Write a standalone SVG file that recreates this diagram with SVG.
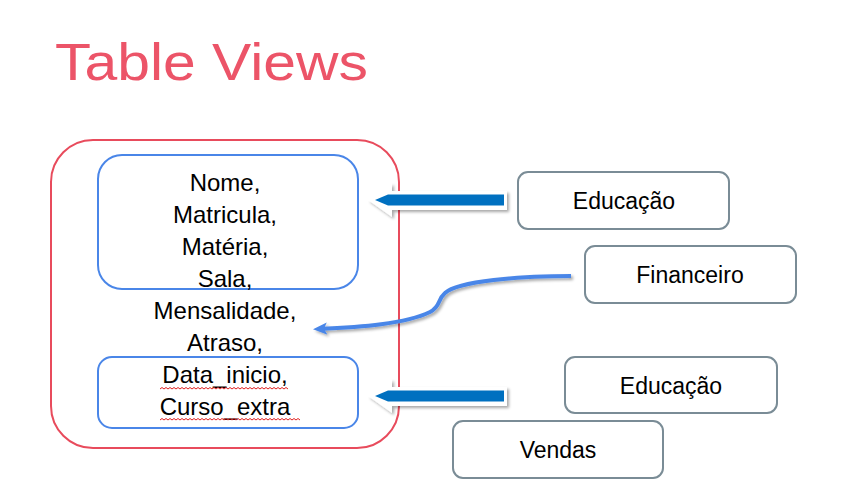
<svg xmlns="http://www.w3.org/2000/svg" width="856" height="488" viewBox="0 0 856 488">
<style>
.t{font-family:"Liberation Sans",Arial,sans-serif;font-size:24px;fill:#000;text-anchor:middle}
.r{font-family:"Liberation Sans",Arial,sans-serif;font-size:23px;fill:#000;text-anchor:middle}
.gbox{fill:#fff;stroke:#7A8C96;stroke-width:2}
.bbox{fill:none;stroke:#4A86E8;stroke-width:2}
.sq{fill:none;stroke:#E02020;stroke-width:1}
</style>
<defs>
<filter id="sh" x="-20%" y="-50%" width="140%" height="200%">
<feGaussianBlur in="SourceAlpha" stdDeviation="1.5"/>
<feOffset dx="1.5" dy="2" result="b"/>
<feComponentTransfer><feFuncA type="linear" slope="0.35"/></feComponentTransfer>
<feMerge><feMergeNode/><feMergeNode in="SourceGraphic"/></feMerge>
</filter>
<marker id="ah" markerWidth="15" markerHeight="13" refX="9" refY="6" orient="auto" markerUnits="userSpaceOnUse">
<path d="M14 6 L0 0 L3 6 L0 12 Z" fill="#4A86E8"/>
</marker>
</defs>
<rect width="856" height="488" fill="#fff"/>
<text x="55" y="80" font-family="Liberation Sans, Arial, sans-serif" font-size="52" fill="#EC5468" textLength="313" lengthAdjust="spacingAndGlyphs">Table Views</text>

<g id="view">
<rect x="51" y="140" width="348" height="308" rx="42" fill="none" stroke="#E84B5C" stroke-width="2"/>
</g>
<g id="box-top">
<rect class="bbox" x="98" y="155" width="260" height="134" rx="24"/>
</g>
<g id="box-bottom">
<rect class="bbox" x="98" y="357" width="260" height="71" rx="14"/>
</g>
<g id="fields">
<text class="t" x="225" y="191">Nome,</text>
<text class="t" x="225" y="223">Matricula,</text>
<text class="t" x="225" y="255">Matéria,</text>
<text class="t" x="225" y="287">Sala,</text>
<text class="t" x="225" y="319">Mensalidade,</text>
<text class="t" x="225" y="351">Atraso,</text>
<text class="t" x="225" y="383">Data_inicio,</text>
<text class="t" x="225" y="415">Curso_extra</text>
<path class="sq" d="M160 389 l2 -1.5 l2 1.5 l2 -1.5 l2 1.5 l2 -1.5 l2 1.5 l2 -1.5 l2 1.5 l2 -1.5 l2 1.5 l2 -1.5 l2 1.5 l2 -1.5 l2 1.5 l2 -1.5 l2 1.5 l2 -1.5 l2 1.5 l2 -1.5 l2 1.5 l2 -1.5 l2 1.5 l2 -1.5 l2 1.5 l2 -1.5 l2 1.5 l2 -1.5 l2 1.5 l2 -1.5 l2 1.5 l2 -1.5 l2 1.5 l2 -1.5 l2 1.5 l2 -1.5 l2 1.5 l2 -1.5 l2 1.5 l2 -1.5 l2 1.5 l2 -1.5 l2 1.5 l2 -1.5 l2 1.5 l2 -1.5 l2 1.5 l2 -1.5 l2 1.5 l2 -1.5 l2 1.5 l2 -1.5 l2 1.5 l2 -1.5 l2 1.5 l2 -1.5 l2 1.5 l2 -1.5 l2 1.5 l2 -1.5 l2 1.5 l2 -1.5 l2 1.5 l2 -1.5 l2 1.5"/>
<path class="sq" d="M160 420 l2 -1.5 l2 1.5 l2 -1.5 l2 1.5 l2 -1.5 l2 1.5 l2 -1.5 l2 1.5 l2 -1.5 l2 1.5 l2 -1.5 l2 1.5 l2 -1.5 l2 1.5 l2 -1.5 l2 1.5 l2 -1.5 l2 1.5 l2 -1.5 l2 1.5 l2 -1.5 l2 1.5 l2 -1.5 l2 1.5 l2 -1.5 l2 1.5 l2 -1.5 l2 1.5 l2 -1.5 l2 1.5 l2 -1.5 l2 1.5 l2 -1.5 l2 1.5 l2 -1.5 l2 1.5 l2 -1.5 l2 1.5 l2 -1.5 l2 1.5 l2 -1.5 l2 1.5 l2 -1.5 l2 1.5 l2 -1.5 l2 1.5 l2 -1.5 l2 1.5 l2 -1.5 l2 1.5 l2 -1.5 l2 1.5 l2 -1.5 l2 1.5 l2 -1.5 l2 1.5 l2 -1.5 l2 1.5 l2 -1.5 l2 1.5 l2 -1.5 l2 1.5 l2 -1.5 l2 1.5 l2 -1.5 l2 1.5 l2 -1.5 l2 1.5 l2 -1.5 l2 1.5"/>
</g>

<g id="educacao-1">
<rect class="gbox" x="518" y="172" width="211" height="57" rx="10"/>
<text class="r" x="624" y="209">Educação</text>
</g>
<g id="financeiro">
<rect class="gbox" x="585" y="246" width="211" height="57" rx="10"/>
<text class="r" x="690" y="283">Financeiro</text>
</g>
<g id="educacao-2">
<rect class="gbox" x="565" y="357" width="212" height="56" rx="10"/>
<text class="r" x="671" y="394">Educação</text>
</g>
<g id="vendas">
<rect class="gbox" x="453" y="421" width="210" height="57" rx="10"/>
<text class="r" x="558" y="458">Vendas</text>
</g>

<g id="connectors">
<g filter="url(#sh)">
<path d="M368 200 L392 183 L392 191 L507 191 L507 210 L392 210 L392 217 Z" fill="#fff"/>
</g>
<path d="M375 200 L388 194.5 L504 194.5 L504 205.5 L388 205.5 Z" fill="#0070C0"/>
<g filter="url(#sh)">
<path d="M368 396 L392 379 L392 387 L507 387 L507 406 L392 406 L392 413 Z" fill="#fff"/>
</g>
<path d="M375 396 L388 390.5 L504 390.5 L504 401.5 L388 401.5 Z" fill="#0070C0"/>
<path d="M571 276 C520 276 458 281 445 293 C437 300 441 306 430 312 C405 324 362 327 318 329" fill="none" stroke="#4A86E8" stroke-width="4" marker-end="url(#ah)" filter="url(#sh)"/>
</g>
</svg>
